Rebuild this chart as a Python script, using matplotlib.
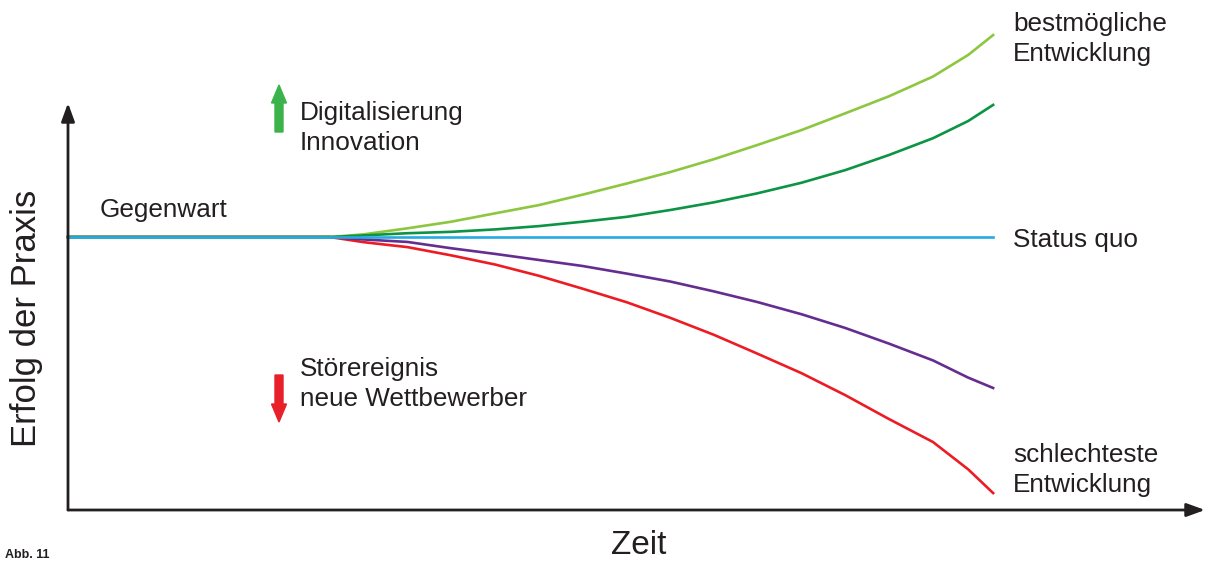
import matplotlib.pyplot as plt
import matplotlib.patches as mpatches

plt.rcParams['font.family'] = ['Liberation Sans', 'DejaVu Sans']

# Zeit (0 = Beginn, 10 = Ende der Prognose)
zeit = [0, 2.83, 3.20, 3.67, 4.14, 4.62, 5.09, 5.56, 6.04, 6.51,
        6.98, 7.45, 7.93, 8.40, 8.87, 9.35, 9.73, 10]
# Erfolg der Praxis (Status quo = 100)
status_quo = [100] * 18
bestmoeglich = [100, 100, 101.0, 103.2, 105.6, 108.7, 111.7, 115.5, 119.6, 123.8,
                128.5, 133.7, 139.2, 145.3, 151.5, 158.8, 166.7, 174.0]
digital = [100, 100, 100.6, 101.4, 101.9, 102.8, 104.0, 105.6, 107.4, 109.9,
           112.7, 116.0, 119.9, 124.5, 130.0, 136.2, 142.5, 148.4]
stoerung = [100, 100, 99.1, 98.2, 95.9, 93.8, 91.6, 89.4, 86.6, 83.7,
            80.1, 76.2, 71.7, 66.7, 61.0, 54.8, 48.5, 44.7]
schlechteste = [100, 100, 98.1, 96.3, 93.3, 89.9, 85.8, 81.1, 76.1, 70.4,
                64.2, 57.3, 50.1, 42.1, 33.4, 24.9, 14.9, 6.2]

W, H = 1208, 561


def px(x, y):
    # Pixelposition -> Figurkoordinaten
    return x / W, 1 - y / H


fig = plt.figure(figsize=(W / 100, H / 100), dpi=100)
ax = fig.add_axes([68 / W, (H - 510) / H, 1137 / W, 407 / H])
ax.set_xlim(0, 12.29)
ax.set_ylim(0, 149.1)

ax.plot(zeit, schlechteste, color="#ed1c24", lw=1.9, clip_on=False)
ax.plot(zeit, stoerung, color="#662d91", lw=1.9, clip_on=False)
ax.plot(zeit, bestmoeglich, color="#8dc63f", lw=1.9, clip_on=False)
ax.plot(zeit, digital, color="#0b9444", lw=1.9, clip_on=False)
ax.plot(zeit, status_quo, color="#27aae1", lw=1.9, clip_on=False)

for s in ax.spines.values():
    s.set_visible(False)
ax.set_xticks([])
ax.set_yticks([])

# Achsen mit Pfeilspitzen
pfeil = dict(arrowstyle="-|>,head_length=1.1,head_width=0.4",
             color="#231f20", lw=2, shrinkA=0, shrinkB=0)
ax.annotate("", xy=(1, 0), xytext=(0, 0), xycoords="axes fraction", arrowprops=pfeil)
ax.annotate("", xy=(0, 1), xytext=(0, 0), xycoords="axes fraction", arrowprops=pfeil)

txt = dict(fontsize=18.8, color="#231f20", linespacing=1.3)
fig.text(*px(100, 217), "Gegenwart", va="baseline", **txt)
fig.text(*px(1013, 240), "Status quo", va="center", **txt)
fig.text(*px(1013, 12), "bestmögliche\nEntwicklung", va="top", **txt)
fig.text(*px(1013, 443), "schlechteste\nEntwicklung", va="top", **txt)
fig.text(*px(300, 101), "Digitalisierung\nInnovation", va="top", **txt)
fig.text(*px(300, 357), "Störereignis\nneue Wettbewerber", va="top", **txt)

fig.text(*px(27, 318), "Erfolg der Praxis", rotation=90, ha="center",
         va="center", fontsize=25, color="#231f20")
fig.text(*px(639, 546), "Zeit", ha="center", va="center", fontsize=24,
         color="#231f20")
fig.text(*px(5, 561), "Abb. 11", va="bottom", fontsize=9, fontweight="bold",
         color="#231f20")

# Pfeile Digitalisierung / Störereignis
fig.patches.append(mpatches.FancyArrow(
    *px(279, 132), 0, 47 / H, width=8 / W, head_width=15 / W,
    head_length=18 / H, length_includes_head=True, color="#3cb34a",
    transform=fig.transFigure))
fig.patches.append(mpatches.FancyArrow(
    *px(279, 375), 0, -47 / H, width=8 / W, head_width=15 / W,
    head_length=18 / H, length_includes_head=True, color="#e8202a",
    transform=fig.transFigure))

fig.savefig("out.png", dpi=100)
